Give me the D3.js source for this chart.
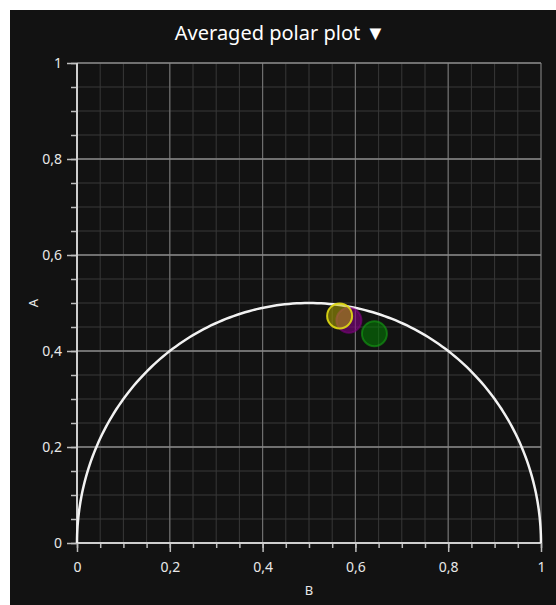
<!DOCTYPE html>
<html>
<head>
<meta charset="utf-8">
<script src="https://cdn.jsdelivr.net/npm/d3@7"></script>
<style>
  html, body { margin: 0; padding: 0; background: #ffffff; }
  #chart { position: absolute; left: 10px; top: 10px; width: 546px; height: 595px; background: #121212; }
  text { font-family: "Segoe UI", "Noto Sans", "Open Sans", sans-serif; }
</style>
</head>
<body>
<div id="chart"></div>
<script>
// Averaged polar plot: unit semicircle plus averaged points (B, A)
const title = "Averaged polar plot \u25BC";
const xLabel = "B";
const yLabel = "A";
const majorTicks = [0, 0.2, 0.4, 0.6, 0.8, 1];
const minorTicks = d3.range(0, 1.0001, 0.05);
const pointNames = ["green", "magenta", "yellow"];
const pointB = [0.641, 0.586, 0.566];
const pointA = [0.436, 0.464, 0.473];
const pointFill = ["rgba(0,140,0,0.5)", "rgba(130,0,130,0.6)", "rgba(190,180,0,0.5)"];
const pointStroke = ["rgba(20,160,20,0.6)", "rgba(130,0,130,0.6)", "rgba(225,220,20,0.9)"];

const W = 546, H = 595;
const margin = { left: 67, right: 15, top: 53, bottom: 62 };

const svg = d3.select("#chart").append("svg")
    .attr("width", W).attr("height", H);

const x = d3.scaleLinear().domain([0, 1]).range([margin.left, W - margin.right]);
const y = d3.scaleLinear().domain([0, 1]).range([H - margin.bottom, margin.top]);

const fmt = d => d3.format(".1~f")(d).replace(".", ",");

// Minor grid
const grid = svg.append("g");
grid.selectAll("line.vmin").data(minorTicks).join("line")
    .attr("x1", d => x(d)).attr("x2", d => x(d))
    .attr("y1", y(0)).attr("y2", y(1))
    .attr("stroke", "#383838").attr("stroke-width", 1);
grid.selectAll("line.hmin").data(minorTicks).join("line")
    .attr("x1", x(0)).attr("x2", x(1))
    .attr("y1", d => y(d)).attr("y2", d => y(d))
    .attr("stroke", "#383838").attr("stroke-width", 1);

// Major grid
grid.selectAll("line.vmaj").data(majorTicks).join("line")
    .attr("x1", d => x(d)).attr("x2", d => x(d))
    .attr("y1", y(0)).attr("y2", y(1))
    .attr("stroke", "#6e6e6e").attr("stroke-width", 1.2);
grid.selectAll("line.hmaj").data(majorTicks).join("line")
    .attr("x1", x(0)).attr("x2", x(1))
    .attr("y1", d => y(d)).attr("y2", d => y(d))
    .attr("stroke", "#8a8a8a").attr("stroke-width", 1.5);

// Axes
const styleAxis = (g) => {
    g.select(".domain").remove();
    g.selectAll("line").attr("stroke", "#bdbdbd").attr("stroke-width", 1.5);
    g.selectAll("text").attr("fill", "#e8e8e8").attr("font-size", "14px");
};

svg.append("g")
    .attr("transform", `translate(${x(0)},0)`)
    .call(d3.axisLeft(y).tickValues(minorTicks).tickFormat("").tickSize(6))
    .call(styleAxis);
svg.append("g")
    .attr("transform", `translate(${x(0)},0)`)
    .call(d3.axisLeft(y).tickValues(majorTicks).tickFormat(fmt).tickSize(10).tickPadding(5))
    .call(styleAxis);
svg.append("g")
    .attr("transform", `translate(0,${y(0)})`)
    .call(d3.axisBottom(x).tickValues(minorTicks).tickFormat("").tickSize(5))
    .call(styleAxis);
svg.append("g")
    .attr("transform", `translate(0,${y(0)})`)
    .call(d3.axisBottom(x).tickValues(majorTicks).tickFormat(fmt).tickSize(9).tickPadding(10))
    .call(styleAxis);

// Axis lines
svg.append("line")
    .attr("x1", x(0)).attr("x2", x(0)).attr("y1", y(0)).attr("y2", y(1))
    .attr("stroke", "#cfcfcf").attr("stroke-width", 2);
svg.append("line")
    .attr("x1", x(0)).attr("x2", x(1)).attr("y1", y(0)).attr("y2", y(0))
    .attr("stroke", "#cfcfcf").attr("stroke-width", 2);

// Semicircle
const arcPts = d3.range(0, 181, 1).map(deg => {
    const t = deg * Math.PI / 180;
    return [0.5 + 0.5 * Math.cos(t), 0.5 * Math.sin(t)];
});
svg.append("path")
    .datum(arcPts)
    .attr("fill", "none")
    .attr("stroke", "#f2f2f2")
    .attr("stroke-width", 2.5)
    .attr("d", d3.line().x(d => x(d[0])).y(d => y(d[1])));

// Points
svg.append("g").selectAll("circle")
    .data(pointNames.map((n, i) => ({ n, b: pointB[i], a: pointA[i], i })))
    .join("circle")
    .attr("cx", d => x(d.b)).attr("cy", d => y(d.a))
    .attr("r", 12.5)
    .attr("fill", d => pointFill[d.i])
    .attr("stroke", d => pointStroke[d.i])
    .attr("stroke-width", 2);

// Title and labels
svg.append("text")
    .attr("x", 270).attr("y", 30)
    .attr("text-anchor", "middle")
    .attr("fill", "#ffffff").attr("font-size", "20px")
    .text(title);
svg.append("text")
    .attr("x", x(0.5)).attr("y", 585)
    .attr("text-anchor", "middle")
    .attr("fill", "#e8e8e8").attr("font-size", "13px")
    .text(xLabel);
svg.append("text")
    .attr("transform", `translate(28,${y(0.5)}) rotate(-90)`)
    .attr("text-anchor", "middle")
    .attr("fill", "#e8e8e8").attr("font-size", "13px")
    .text(yLabel);
</script>
</body>
</html>
